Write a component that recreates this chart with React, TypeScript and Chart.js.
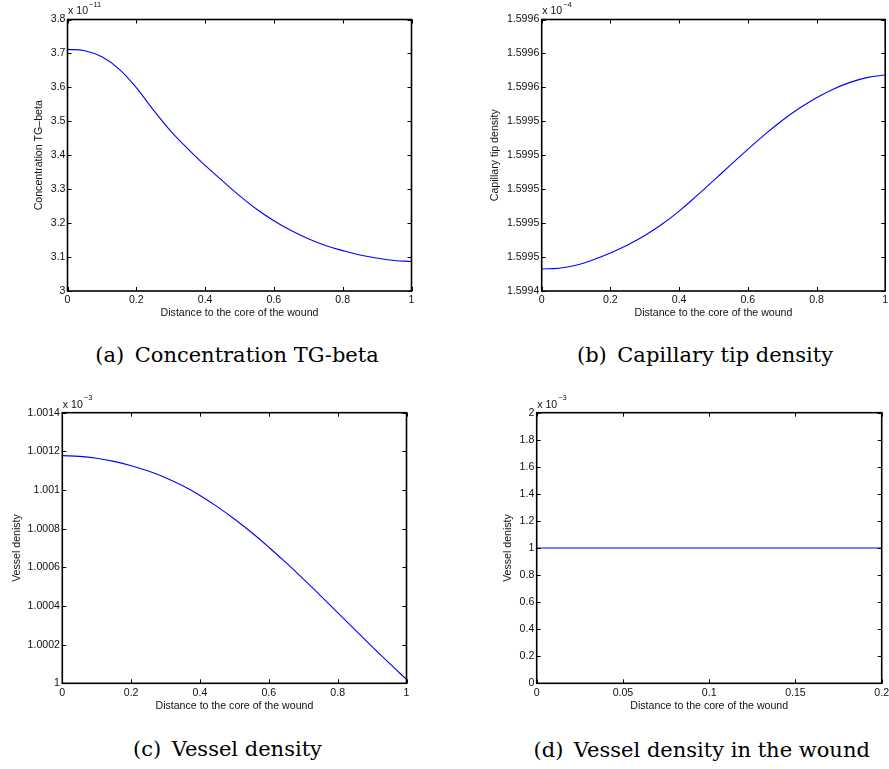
import React, { useEffect, useRef } from "react";
import { Chart, registerables } from "chart.js";

Chart.register(...registerables);

// ---------- data (values shown in the scaled units of each axis) ----------
const distance = [0, 0.05, 0.1, 0.15, 0.2, 0.25, 0.3, 0.35, 0.4, 0.45, 0.5, 0.55, 0.6, 0.65, 0.7, 0.75, 0.8, 0.85, 0.9, 0.95, 1.0];

// (a) Concentration TG-beta, x 10^-11
const tgBeta = [3.712, 3.708, 3.690, 3.654, 3.599, 3.533, 3.471, 3.419, 3.370, 3.325, 3.281, 3.241, 3.207, 3.178, 3.154, 3.134, 3.119, 3.106, 3.097, 3.090, 3.087];

// (b) Capillary tip density, x 10^-4
const capillaryTip = [1.599453, 1.5994534, 1.5994552, 1.5994584, 1.5994624, 1.5994671, 1.5994727, 1.5994793, 1.5994871, 1.5994959, 1.5995051, 1.5995143, 1.5995235, 1.5995323, 1.5995405, 1.5995477, 1.5995539, 1.5995591, 1.5995631, 1.5995659, 1.5995673];

// (c) Vessel density, x 10^-3
const vesselDensity = [1.001178, 1.001174, 1.001164, 1.001148, 1.001126, 1.001098, 1.001064, 1.001022, 1.000972, 1.000914, 1.00085, 1.00078, 1.000704, 1.000624, 1.00054, 1.000454, 1.000366, 1.000278, 1.00019, 1.000104, 1.00002];

// (d) Vessel density in the wound, x 10^-3
const woundDistance = [0, 0.05, 0.1, 0.15, 0.2];
const woundVesselDensity = [1, 1, 1, 1, 1];

// axis settings
const xLabel = "Distance to the core of the wound";
const panelA = { yLabel: "Concentration TG\u2013beta", exponent: "\u221211", yMin: 3, yMax: 3.8, yStep: 0.1, xMax: 1, xStep: 0.2 };
const panelB = { yLabel: "Capillary tip density", exponent: "\u22124", yMin: 1.59944, yMax: 1.5996, yStep: 0.00002, xMax: 1, xStep: 0.2 };
const panelC = { yLabel: "Vessel denisty", exponent: "\u22123", yMin: 1, yMax: 1.0014, yStep: 0.0002, xMax: 1, xStep: 0.2 };
const panelD = { yLabel: "Vessel denisty", exponent: "\u22123", yMin: 0, yMax: 2, yStep: 0.2, xMax: 0.2, xStep: 0.05 };

const captions = ["(a)\u2002Concentration TG-beta", "(b)\u2002Capillary tip density", "(c)\u2002Vessel density", "(d)\u2002Vessel density in the wound"];

const FONT = "'Liberation Sans', Arial, Helvetica, sans-serif";
const FS = 10.6;

const matlabFrame = {
  id: "matlabFrame",
  afterDatasetsDraw(chart: any, _args: any, opts: any) {
    const { ctx, chartArea } = chart;
    const { left, top, right, bottom } = chartArea;
    const xs = chart.scales.x;
    const ys = chart.scales.y;
    const L = 4;
    ctx.save();
    ctx.strokeStyle = "#000";
    ctx.lineWidth = 1;
    ctx.beginPath();
    xs.ticks.forEach((t: any) => {
      const px = Math.round(xs.getPixelForValue(t.value)) + 0.5;
      ctx.moveTo(px, bottom);
      ctx.lineTo(px, bottom - L);
      ctx.moveTo(px, top);
      ctx.lineTo(px, top + L);
    });
    ys.ticks.forEach((t: any) => {
      const py = Math.round(ys.getPixelForValue(t.value)) + 0.5;
      ctx.moveTo(left, py);
      ctx.lineTo(left + L, py);
      ctx.moveTo(right, py);
      ctx.lineTo(right - L, py);
    });
    ctx.stroke();
    ctx.lineWidth = 1.6;
    ctx.strokeRect(left, top, right - left, bottom - top);
    // exponent label
    ctx.fillStyle = "#111";
    ctx.textBaseline = "middle";
    ctx.textAlign = "left";
    ctx.font = `${FS}px ${FONT}`;
    const base = "x 10";
    ctx.fillText(base, left + 0.5, top - 8);
    const w = ctx.measureText(base).width;
    ctx.font = `7.5px ${FONT}`;
    ctx.fillText(opts.exponent, left + 0.5 + w + 1, top - 15);
    ctx.restore();
  },
};

function fmt(v: number) {
  return String(Number(v.toFixed(6)));
}

type Geo = { left: number; top: number; W: number; H: number; aL: number; aT: number; aR: number; aB: number; xTickPad: number; xTitleY: number; yTitleX: number; yTickPad: number };

function Panel({ geo, xData, yData, cfg, yFormat }: { geo: Geo; xData: number[]; yData: number[]; cfg: any; yFormat: (v: number) => string }) {
  const ref = useRef<HTMLCanvasElement | null>(null);
  useEffect(() => {
    if (!ref.current) return;
    const lh = FS * 1.2;
    const chart = new Chart(ref.current, {
      type: "line",
      data: {
        datasets: [
          {
            data: xData.map((x, i) => ({ x, y: yData[i] })),
            borderColor: "rgb(0,0,255)",
            borderWidth: 1.1,
            pointRadius: 0,
            fill: false,
            tension: 0.4,
          },
        ],
      },
      options: {
        responsive: false,
        animation: false,
        events: [],
        layout: { padding: { left: 0, top: geo.aT, right: geo.W - geo.aR, bottom: 0 } },
        plugins: {
          legend: { display: false },
          tooltip: { enabled: false },
          title: { display: false },
          matlabFrame: { exponent: cfg.exponent },
        } as any,
        scales: {
          x: {
            type: "linear",
            min: 0,
            max: cfg.xMax,
            grid: { display: false, drawTicks: false, tickLength: 0 },
            border: { display: false },
            ticks: {
              stepSize: cfg.xStep,
              autoSkip: false,
              maxRotation: 0,
              padding: geo.xTickPad,
              color: "#111",
              font: { family: FONT, size: FS },
              callback: (v: any) => fmt(Number(v)),
            },
            title: {
              display: true,
              text: xLabel,
              color: "#111",
              font: { family: FONT, size: FS },
              padding: { top: 0, bottom: geo.H - geo.xTitleY - lh / 2 },
            },
            afterFit: (s: any) => {
              s.height = geo.H - geo.aB;
              s.paddingLeft = 0;
              s.paddingRight = 0;
            },
          },
          y: {
            type: "linear",
            min: cfg.yMin,
            max: cfg.yMax,
            grid: { display: false, drawTicks: false, tickLength: 0 },
            border: { display: false },
            ticks: {
              stepSize: cfg.yStep,
              autoSkip: false,
              padding: geo.yTickPad,
              color: "#111",
              font: { family: FONT, size: FS },
              callback: (v: any) => yFormat(Number(v)),
            },
            title: {
              display: true,
              text: cfg.yLabel,
              color: "#111",
              font: { family: FONT, size: FS },
              padding: { top: geo.yTitleX - lh / 2, bottom: 0 },
            },
            afterFit: (s: any) => {
              s.width = geo.aL;
              s.paddingTop = 0;
              s.paddingBottom = 0;
            },
          },
        },
      } as any,
      plugins: [matlabFrame],
    });
    return () => chart.destroy();
  }, []);
  return (
    <canvas
      ref={ref}
      width={geo.W}
      height={geo.H}
      style={{ position: "absolute", left: geo.left, top: geo.top, width: geo.W, height: geo.H }}
    />
  );
}

const geoA: Geo = { left: 0, top: 0, W: 425, H: 325, aL: 67.5, aT: 19.5, aR: 411.5, aB: 291, xTickPad: 2.7, xTitleY: 313, yTitleX: 39, yTickPad: 2 };
const geoB: Geo = { left: 440, top: 0, W: 449, H: 325, aL: 101.7, aT: 19.5, aR: 445.2, aB: 291, xTickPad: 2.7, xTitleY: 313, yTitleX: 55, yTickPad: 2.4 };
const geoC: Geo = { left: 0, top: 390, W: 425, H: 330, aL: 62.3, aT: 22.7, aR: 406.5, aB: 293.3, xTickPad: 3.2, xTitleY: 316, yTitleX: 16.7, yTickPad: 2.3 };
const geoD: Geo = { left: 440, top: 390, W: 449, H: 330, aL: 96.7, aT: 22.7, aR: 441.7, aB: 293.3, xTickPad: 3.2, xTitleY: 316, yTitleX: 68.3, yTickPad: 2.4 };

const captionPos = [
  { x: 237, y: 355 },
  { x: 705, y: 355 },
  { x: 227.5, y: 749 },
  { x: 701.7, y: 750 },
];

export default function App() {
  return (
    <div style={{ position: "absolute", left: 0, top: 0, width: 889, height: 769, background: "#fff", overflow: "hidden" }}>
      <Panel geo={geoA} xData={distance} yData={tgBeta} cfg={panelA} yFormat={fmt} />
      <Panel geo={geoB} xData={distance} yData={capillaryTip} cfg={panelB} yFormat={(v) => v.toFixed(4)} />
      <Panel geo={geoC} xData={distance} yData={vesselDensity} cfg={panelC} yFormat={fmt} />
      <Panel geo={geoD} xData={woundDistance} yData={woundVesselDensity} cfg={panelD} yFormat={fmt} />
      {captions.map((c, i) => (
        <div
          key={i}
          style={{
            position: "absolute",
            left: captionPos[i].x,
            top: captionPos[i].y,
            transform: "translate(-50%, -50%)",
            whiteSpace: "nowrap",
            fontFamily: "'DejaVu Serif', serif",
            fontSize: 21,
            lineHeight: 1,
            color: "#000",
          }}
        >
          {c}
        </div>
      ))}
    </div>
  );
}
